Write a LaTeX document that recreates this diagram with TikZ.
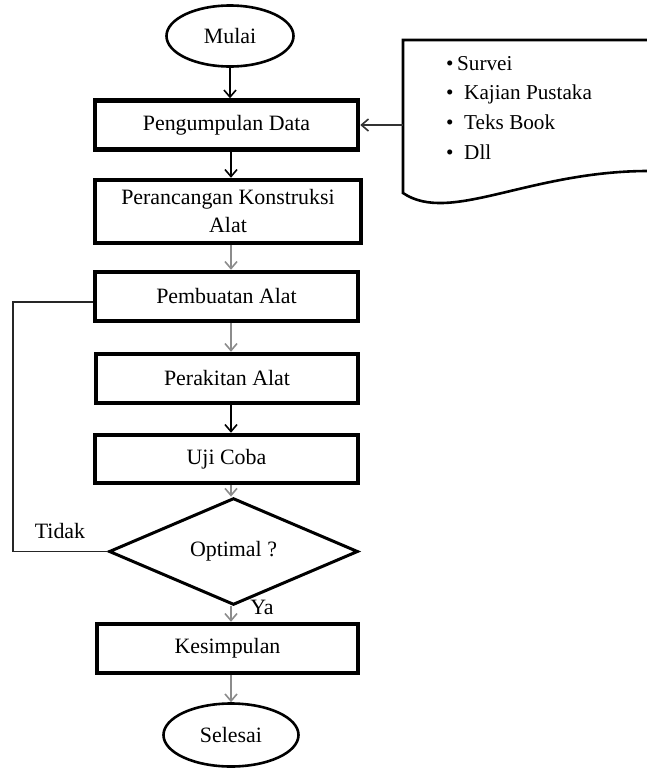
\documentclass[tikz,border=0pt]{standalone}
\usepackage{fontspec}
\setmainfont{Liberation Serif}
\usetikzlibrary{shapes.geometric,arrows.meta}
\begin{document}
\begin{tikzpicture}[x=1pt,y=-1pt,font=\fontsize{21.9}{28}\selectfont,
kotak/.style={draw,line width=4.5pt,minimum width=263pt,minimum height=49pt,inner sep=0pt,align=center},
oval/.style={draw,ellipse,line width=2.6pt,inner sep=0pt},
panah/.style={-{Straight Barb[length=7pt,width=12pt]},line width=1.6pt},
panahabu/.style={panah,draw=black!45},
garis/.style={line width=1.8pt,draw=black!85}]
\useasboundingbox (0,0) rectangle (647,769);
\coordinate (poros) at (231,0);
\node[oval,minimum width=127pt,minimum height=61pt] (mulai) at (230,36) {Mulai};
\node[kotak] (data) at (226.5,125) {Pengumpulan Data};
\node[kotak,minimum width=266pt,minimum height=63pt] (rancang) at (228,211.5) {Perancangan Konstruksi\\Alat};
\node[kotak] (buat) at (226.5,296.5) {Pembuatan Alat};
\node[kotak,minimum width=262pt] (rakit) at (227,378.5) {Perakitan Alat};
\node[kotak,minimum height=48pt] (uji) at (226.5,459) {Uji Coba};
\node[draw,diamond,line width=3pt,inner sep=0pt,minimum width=249pt,minimum height=80pt] (optimal) at (233.5,551.5) {Optimal ?};
\node[kotak,minimum width=261pt] (simpul) at (227.5,648.5) {Kesimpulan};
\node[oval,minimum width=135pt,minimum height=63pt] (selesai) at (231,735) {Selesai};
\node (tidak) at (60,531) {Tidak};
\node (ya) at (262,607) {Ya};
% sumber data
\draw[line width=2.6pt] (652,40) -- (403,40) -- (403,193)
.. controls (450,225) and (530,170) .. (652,171);
\coordinate (docl) at (403,125);
\node[anchor=north west,align=left,inner sep=0pt,font=\fontsize{21.2}{29.7}\selectfont] (sumber) at (446,56)
{\textbullet\,Survei\\\textbullet\ \ Kajian Pustaka\\\textbullet\ \ Teks Book\\\textbullet\ \ Dll};
\draw[panah,draw=black!80] (docl) -- (data.east);
\draw[panah] (mulai.south) -- (data.north -| mulai.south);
\draw[panah] (data.south -| poros) -- (rancang.north -| poros);
\draw[panahabu] (rancang.south -| poros) -- (buat.north -| poros);
\draw[panahabu] (buat.south -| poros) -- (rakit.north -| poros);
\draw[panah] (rakit.south -| poros) -- (uji.north -| poros);
\draw[panahabu] (uji.south -| poros) -- (optimal.north -| poros);
\draw[panahabu] (optimal.south -| poros) -- (simpul.north -| poros);
\draw[panahabu] (simpul.south -| poros) -- (selesai.north -| poros);
% kembali ke pembuatan
\coordinate (balik) at (13,302);
\draw[garis] (optimal.west) -| (balik) -- (buat.west |- balik);
\end{tikzpicture}
\end{document}
